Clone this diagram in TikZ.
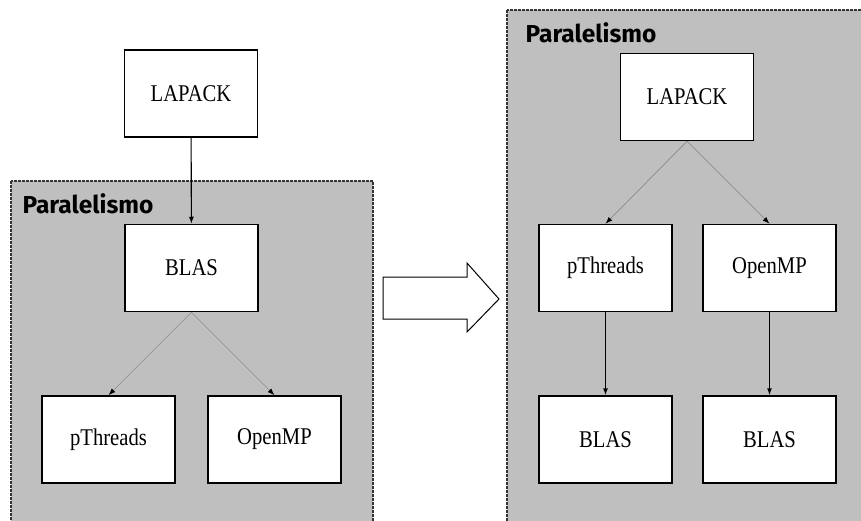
\documentclass[tikz,border=0pt]{standalone}
\usepackage{fontspec}
\setmainfont{Liberation Serif}
\newfontfamily\regionfont{Fira Sans}
\usepackage{xcolor}
\usetikzlibrary{arrows.meta}

\definecolor{regiongray}{RGB}{191,191,191}
\definecolor{linkgray}{RGB}{140,140,140}
\newcommand\boxlabel[1]{\scalebox{0.86}[1]{#1}}

\tikzset{
  box/.style={draw, fill=white, line width=1.5pt, minimum width=133pt, minimum height=87pt, inner sep=0pt, font=\fontsize{24}{28}\selectfont},
  region/.style={fill=regiongray, draw=black!80, line width=1.1pt, dash pattern=on 3pt off 1pt},
  regionlabel/.style={font=\regionfont\bfseries\fontsize{24.5}{28}\selectfont},
  solid link/.style={line width=1.1pt, -{Latex[length=7pt,width=5pt]}},
  thin link/.style={linkgray, line width=0.7pt, -{Latex[length=7pt,width=5pt,black]}}
}

\begin{document}
\begin{tikzpicture}[x=1pt,y=-1pt]
  \useasboundingbox (0,0) rectangle (861,521);
  \begin{scope}
    \clip (0,0) rectangle (861,521);
    \draw[region] (11,181) rectangle (373,540);
    \draw[region] (507,10) rectangle (880,540);
  \end{scope}
      \node[regionlabel] (P1) at (88,204) {Paralelismo};
      \node[regionlabel] (P2) at (591,33) {Paralelismo};
      % left
      \node[box] (A) at (191,93.5) {\boxlabel{LAPACK}};
      \node[box] (B) at (191.5,268) {\boxlabel{BLAS}};
      \node[box] (C) at (108.5,439.5) {\boxlabel{pThreads}};
      \node[box] (D) at (274.5,439.5) {\boxlabel{OpenMP}};
      % right
      \node[box] (E) at (687,97) {\boxlabel{LAPACK}};
      \node[box] (F) at (605.5,268) {\boxlabel{pThreads}};
      \node[box] (G) at (769.5,268) {\boxlabel{OpenMP}};
      \node[box] (H) at (605.5,439.5) {\boxlabel{BLAS}};
      \node[box] (I) at (769.5,439.5) {\boxlabel{BLAS}};
      \draw[solid link] (A) -- (B);
      \draw[thin link] (B.south) -- (C.north);
      \draw[thin link] (B.south) -- (D.north);
      \draw[thin link] (E.south) -- (F.north);
      \draw[thin link] (E.south) -- (G.north);
      \draw[solid link] (F) -- (H);
      \draw[solid link] (G) -- (I);
      % big arrow
      \draw[fill=white, line width=1pt, line join=miter]
        (383,277) -- (467,277) -- (467,263) -- (499,299) -- (467,332) -- (467,319) -- (383,319) -- cycle;
\end{tikzpicture}
\end{document}
